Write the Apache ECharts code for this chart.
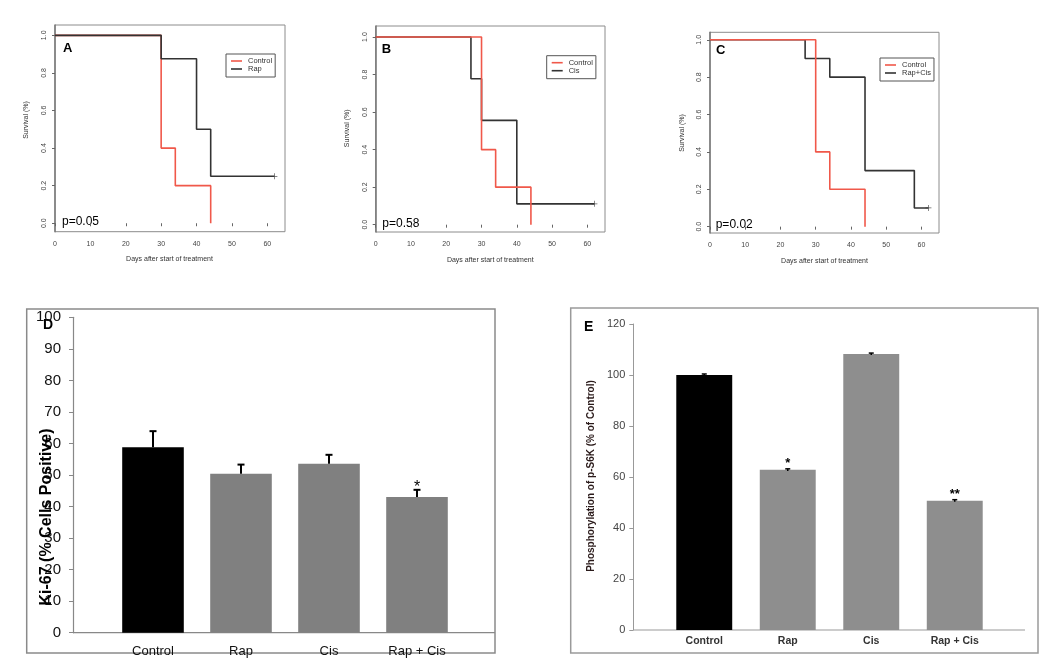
<!DOCTYPE html>
<html><head><meta charset="utf-8">
<script src="https://cdn.jsdelivr.net/npm/echarts@6/dist/echarts.min.js"></script>
<style>html,body{margin:0;padding:0;background:#fff}#c{width:1050px;height:669px}</style>
</head><body><div id="c"></div>
<script>
// ---- data ----
const dayTicks = [0, 10, 20, 30, 40, 50, 60];
const survTicks = [0, 0.2, 0.4, 0.6, 0.8, 1.0];
const controlSurv = [[0, 1], [30, 0.4], [34, 0.2], [44, 0]];
const rapSurv = [[0, 1], [30, 0.875], [40, 0.5], [44, 0.25], [62, 0.25]];
const cisSurv = [[0, 1], [27, 0.778], [30, 0.556], [40, 0.111], [62, 0.111]];
const rapCisSurv = [[0, 1], [27, 0.9], [34, 0.8], [44, 0.3], [58, 0.1], [62, 0.1]];
const rapCensor = [[62, 0.25]];
const cisCensor = [[62, 0.111]];
const rapCisCensor = [[62, 0.1]];
const pValues = ['p=0.05', 'p=0.58', 'p=0.02'];
const panelLetters = ['A', 'B', 'C', 'D', 'E'];

const categories = ['Control', 'Rap', 'Cis', 'Rap + Cis'];
const ki67Mean = [58.8, 50.4, 53.6, 43.0];
const ki67Err = [5.1, 2.9, 2.8, 2.3];
const ki67Sig = ['', '', '', '*'];
const ps6kMean = [100, 62.8, 108.2, 50.7];
const ps6kErr = [0.4, 0.4, 0.4, 0.4];
const ps6kSig = ['', '*', '', '**'];

// ---- styling ----
const FONT = 'Liberation Sans, Arial, sans-serif';
const RED = '#f0584a';
const DARK = '#333333';
const chart = echarts.init(document.getElementById('c'));

const survGrids = [
  {left: 55, top: 25, width: 230, height: 206.7, ymin: -0.045, ymax: 1.055},
  {left: 375.7, top: 26, width: 229.3, height: 206, ymin: -0.039, ymax: 1.059},
  {left: 710, top: 32.3, width: 229, height: 200.7, ymin: -0.034, ymax: 1.04}
];

const grids = [], xAxes = [], yAxes = [], series = [];
survGrids.forEach((g, i) => {
  grids.push({left: g.left, top: g.top, width: g.width, height: g.height, show: true,
    borderColor: '#8c8c8c', borderWidth: 1, backgroundColor: 'transparent'});
  xAxes.push({type: 'value', gridIndex: i, min: 0, max: 65,
    axisLine: {show: false}, splitLine: {show: false},
    axisTick: {customValues: dayTicks, length: 3, lineStyle: {color: '#666'}},
    axisLabel: {customValues: dayTicks, fontSize: 7, color: '#444', margin: 9, fontFamily: FONT}});
  yAxes.push({type: 'value', gridIndex: i, min: g.ymin, max: g.ymax,
    axisLine: {show: true, lineStyle: {color: '#777', width: 1.5}}, splitLine: {show: false},
    axisTick: {customValues: survTicks, length: 3, lineStyle: {color: '#666'}},
    axisLabel: {customValues: survTicks, rotate: 90, fontSize: 7, color: '#444', margin: 7,
      fontFamily: FONT, formatter: v => v.toFixed(1)}});
});

function survLine(name, data, color, idx) {
  return {type: 'line', name, data, step: 'end', showSymbol: false, silent: true,
    xAxisIndex: idx, yAxisIndex: idx, lineStyle: {color, width: 1.6}, itemStyle: {color}};
}
function censor(data, idx) {
  return {type: 'scatter', data, xAxisIndex: idx, yAxisIndex: idx, silent: true,
    symbol: 'path://M4.4,0H5.6V10H4.4ZM0,4.4H10V5.6H0Z', symbolSize: 6, itemStyle: {color: DARK}};
}
series.push(survLine('Control', controlSurv, RED, 0));
series.push(survLine('Rap', rapSurv, DARK, 0));
series.push(censor(rapCensor, 0));
series.push(survLine('Cis', cisSurv, DARK, 1));
series.push(survLine('Control', controlSurv, RED, 1));
series.push(censor(cisCensor, 1));
series.push(survLine('Rap+Cis', rapCisSurv, DARK, 2));
series.push(survLine('Control', controlSurv, RED, 2));
series.push(censor(rapCisCensor, 2));

// ---- bar panels ----
grids.push({left: 109, top: 317.3, width: 352, height: 315.4});
grids.push({left: 662.5, top: 324, width: 334, height: 306});
xAxes.push({type: 'category', gridIndex: 3, data: categories,
  axisLine: {show: false}, axisTick: {show: false},
  axisLabel: {fontSize: 13, color: '#111', margin: 12, fontFamily: FONT}});
xAxes.push({type: 'category', gridIndex: 4, data: categories,
  axisLine: {show: false}, axisTick: {show: false},
  axisLabel: {fontSize: 10.5, fontWeight: 'bold', color: '#333', margin: 6, fontFamily: FONT}});
yAxes.push({type: 'value', gridIndex: 3, min: 0, max: 100, interval: 10, offset: 36,
  splitLine: {show: false}, axisLine: {show: true, lineStyle: {color: '#888', width: 1.2}},
  axisTick: {show: true, length: 4, lineStyle: {color: '#888'}},
  axisLabel: {fontSize: 15, color: '#111', margin: 12, fontFamily: FONT}});
yAxes.push({type: 'value', gridIndex: 4, min: 0, max: 120, interval: 20, offset: 29.2,
  splitLine: {show: false}, axisLine: {show: true, lineStyle: {color: '#999', width: 1}},
  axisTick: {show: true, length: 4, lineStyle: {color: '#999'}},
  axisLabel: {fontSize: 11, color: '#444', margin: 8, fontFamily: FONT}});

series.push({type: 'bar', xAxisIndex: 3, yAxisIndex: 3, barCategoryGap: '30%', silent: true,
  data: ki67Mean.map((v, i) => ({value: v, itemStyle: {color: i === 0 ? '#000' : '#808080'}}))});
series.push({type: 'bar', xAxisIndex: 4, yAxisIndex: 4, barCategoryGap: '33%', silent: true,
  data: ps6kMean.map((v, i) => ({value: v, itemStyle: {color: i === 0 ? '#000' : '#8e8e8e'}}))});

function errSeries(idx, means, errs, sigs, opt) {
  return {type: 'custom', xAxisIndex: idx, yAxisIndex: idx, silent: true, z: 5,
    data: means.map((m, i) => [i, m, errs[i]]),
    renderItem: (params, api) => {
      const i = api.value(0), m = api.value(1), e = api.value(2);
      const lo = api.coord([i, opt.both ? m - e : m]);
      const hi = api.coord([i, m + e]);
      const children = [
        {type: 'line', shape: {x1: hi[0], y1: lo[1], x2: hi[0], y2: hi[1]},
          style: {stroke: '#000', lineWidth: opt.lw}},
        {type: 'line', shape: {x1: hi[0] - opt.cap / 2, y1: hi[1], x2: hi[0] + opt.cap / 2, y2: hi[1]},
          style: {stroke: '#000', lineWidth: opt.lw}}
      ];
      const s = sigs[params.dataIndex];
      if (s) children.push({type: 'text', x: hi[0], y: hi[1] - opt.starGap,
        style: {text: s, font: opt.starFont, fill: '#000', align: 'center', verticalAlign: 'middle'}});
      return {type: 'group', children};
    }};
}
series.push(errSeries(3, ki67Mean, ki67Err, ki67Sig, {both: false, lw: 2, cap: 7, starGap: 2, starFont: '16px ' + FONT}));
series.push(errSeries(4, ps6kMean, ps6kErr, ps6kSig, {both: true, lw: 1.5, cap: 5, starGap: 5, starFont: 'bold 13px ' + FONT}));

// ---- legends ----
const legendBase = {orient: 'vertical', icon: 'rect', itemWidth: 11, itemHeight: 1.6, itemGap: 0,
  borderColor: '#555', borderWidth: 1, padding: [3, 3, 4, 5], selectedMode: false,
  textStyle: {fontSize: 7.5, color: '#333', fontFamily: FONT, padding: [0, 0, 0, 1]}};
const legends = [
  Object.assign({}, legendBase, {data: ['Control', 'Rap'], left: 226, top: 54}),
  Object.assign({}, legendBase, {data: ['Control', 'Cis'], left: 546.7, top: 55.7}),
  Object.assign({}, legendBase, {data: ['Control', 'Rap+Cis'], left: 880, top: 58})
];

// ---- annotations ----
const graphic = [];
const letterPos = [[63, 48], [381.7, 49.3], [716, 50]];
const pPos = [[62, 222], [382.3, 224], [715.7, 225]];
const xNamePos = [[169.5, 259], [490.3, 259.7], [824.5, 260.7]];
const yNamePos = [[26, 120], [346.7, 128.3], [681.7, 133]];
for (let i = 0; i < 3; i++) {
  graphic.push({type: 'text', x: letterPos[i][0], y: letterPos[i][1],
    style: {text: panelLetters[i], font: 'bold 13px ' + FONT, fill: '#000', verticalAlign: 'middle'}});
  graphic.push({type: 'text', x: pPos[i][0], y: pPos[i][1],
    style: {text: pValues[i], font: '12px ' + FONT, fill: '#000', verticalAlign: 'middle'}});
  graphic.push({type: 'text', x: xNamePos[i][0], y: xNamePos[i][1],
    style: {text: 'Days after start of treatment', font: '7px ' + FONT, fill: '#333', align: 'center', verticalAlign: 'middle'}});
  graphic.push({type: 'text', x: yNamePos[i][0], y: yNamePos[i][1], rotation: Math.PI / 2,
    style: {text: 'Survival (%)', font: '7px ' + FONT, fill: '#333', align: 'center', verticalAlign: 'middle'}});
}
// panel D frame, baseline, labels
graphic.push({type: 'rect', shape: {x: 26.7, y: 309, width: 468.3, height: 344}, z: -1,
  style: {fill: 'none', stroke: '#8a8a8a', lineWidth: 1.5}});
graphic.push({type: 'line', shape: {x1: 73, y1: 632.7, x2: 495, y2: 632.7},
  style: {stroke: '#888', lineWidth: 1.2}});
graphic.push({type: 'text', x: 43, y: 325,
  style: {text: panelLetters[3], font: 'bold 14px ' + FONT, fill: '#000', verticalAlign: 'middle'}});
graphic.push({type: 'text', x: 46.7, y: 517, rotation: Math.PI / 2, z: 10,
  style: {text: 'Ki-67 (% Cells Positive)', font: 'bold 16px ' + FONT, fill: '#000', align: 'center', verticalAlign: 'middle'}});
// panel E frame, baseline, labels
graphic.push({type: 'rect', shape: {x: 570.7, y: 308, width: 467.3, height: 345}, z: -1,
  style: {fill: 'none', stroke: '#9a9a9a', lineWidth: 1.5}});
graphic.push({type: 'line', shape: {x1: 633.3, y1: 630, x2: 1025, y2: 630},
  style: {stroke: '#999', lineWidth: 1}});
graphic.push({type: 'text', x: 584, y: 326.7,
  style: {text: panelLetters[4], font: 'bold 14px ' + FONT, fill: '#000', verticalAlign: 'middle'}});
graphic.push({type: 'text', x: 591.7, y: 476, rotation: Math.PI / 2,
  style: {text: 'Phosphorylation of p-S6K (% of Control)', font: 'bold 10px ' + FONT, fill: '#2a1a1a', align: 'center', verticalAlign: 'middle'}});

chart.setOption({
  animation: false,
  backgroundColor: '#fff',
  grid: grids, xAxis: xAxes, yAxis: yAxes, series, legend: legends, graphic
});
</script>
</body></html>
